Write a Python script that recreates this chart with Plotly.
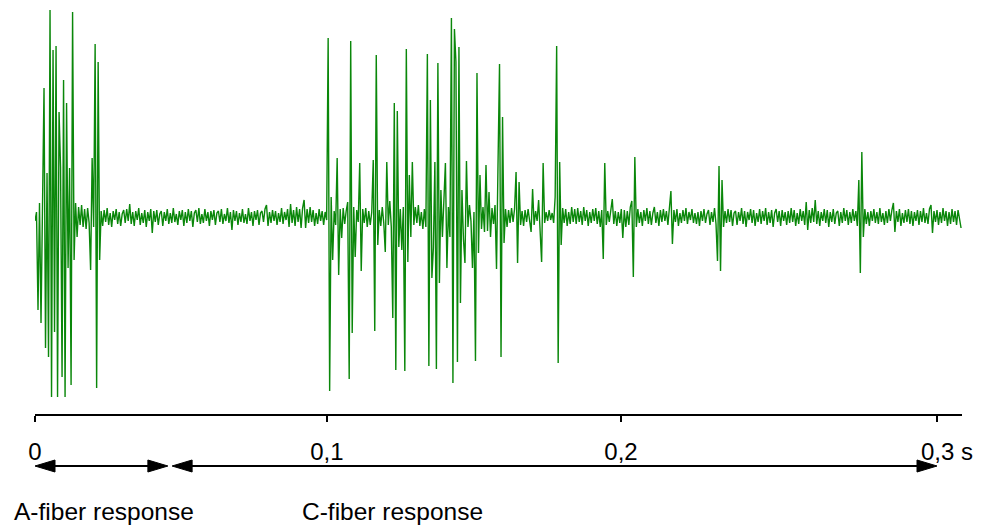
import numpy as np
import plotly.graph_objects as go

# ---- data ----
SAMPLE_INTERVAL_S = 0.0005          # one sample every 0.5 ms
# recorded nerve signal, amplitude in arbitrary units (baseline = 0)
signal_rows = [
    [-4, 5, -93, 14, -106, 42, 129, -131, 44, -140, 207, -180, 167, -115, 171, -180, 105, 50, -160, 137],
    [-180, 114, -51, 49, -168, 205, -43, 14, -20, 10, -8, 12, -10, 8, -12, 9, -6, -53, 59, -10],
    [173, -171, 155, -43, 6, -9, 7, -5, 9, -8, 4, -10, 6, -3, 8, -7, 5, -9, 3, 7],
    [-6, 8, -4, 13, -7, 5, -9, 6, -3, 9, -8, 4, -6, 7, -10, 5, -4, 8, -16, 6],
    [-5, 7, -8, 3, 6, -9, 5, -4, 8, -7, 4, -6, 9, -5, 3, -8, 6, -3, 7, -9],
    [5, -6, 8, -4, 6, -10, 4, 7, -5, 9, -7, 3, -6, 8, -4, 5, -9, 6, -3, 7],
    [-8, 4, 6, -5, 8, -7, 3, -4, 9, -6, 5, -13, 7, -4, 6, -8, 4, -5, 8, -6],
    [3, -7, 9, -4, 5, -9, 6, -3, 7, -8, 4, 6, -5, 8, 12, -9, 5, -6, 7, -4],
    [6, -8, 4, -5, 9, -7, 5, -3, 8, -10, 13, -6, 7, -9, 10, -5, 8, -11, 9, 17],
    [-11, 8, -6, 10, -5, 7, -9, 4, -7, 8, -4, 6, -8, 5, -3, 179, -174, 20, -43, 6],
    [-8, 59, -58, 8, -21, 9, -7, 6, 15, -162, 176, -116, 10, -40, 7, -5, 54, -54, 8, -6],
    [9, -10, 6, -8, 5, 57, -114, 162, -28, 7, -9, 10, -6, -35, 55, -8, 16, -10, -101, 114],
    [-153, 106, -30, 8, -33, 10, -154, 168, -45, 42, -20, 55, -8, 10, -6, 12, -9, 5, -12, 8],
    [-10, 163, -149, 117, -61, -31, 55, -152, 154, -66, 27, -20, 10, 54, -51, 10, -20, 199, -166, 188],
    [155, -145, 170, -86, 27, -22, -46, 56, -10, 12, -4, -51, 5, -144, 144, -36, 42, -12, 10, -15],
    [52, -14, 25, -20, 9, -7, 12, -52, 54, 153, -140, 100, -26, 8, -10, 7, -6, 9, -5, 8],
    [45, -46, 35, -8, 6, -9, 7, -5, 8, -7, -15, 28, -8, 6, -4, 17, -9, -45, 54, -6],
    [5, -4, 7, -3, 4, -6, 20, 171, -146, 55, -28, 9, -6, 8, -9, 5, -7, 10, -5, 8],
    [-7, 9, -5, 6, -8, 10, -4, 7, -9, 5, -6, 8, -4, 9, -7, 6, -10, 7, -42, 54],
    [-8, 6, -5, 9, 18, -7, 6, -9, 5, -6, 8, -21, 7, -10, 6, -8, 10, 16, -60, 60],
    [-10, 8, -6, 5, -9, 7, -4, 9, -7, 6, -8, 4, 10, -6, 5, -9, 7, -5, 8, -4],
    [6, -8, 9, 26, -27, 7, -5, 8, -9, 4, -6, 7, -4, 9, -7, 5, -3, 8, -6, 4],
    [-7, 5, -9, 6, -4, 8, -6, 3, 7, -8, 5, -5, 9, -7, -44, 51, -54, 37, -10, 6],
    [-6, 8, -5, 7, -9, 4, 6, -8, 5, -4, 9, -7, 6, -10, 5, -3, 8, -6, 7, -9],
    [4, -5, 8, -7, 6, -4, 9, -8, 5, -6, 7, -10, 4, 8, -5, 6, -9, 7, -4, 5],
    [-8, 6, -6, 9, -5, 7, -9, 4, -7, 8, -4, 6, -8, 15, -13, 7, -6, 9, -5, 17],
    [-7, 6, -9, 5, -4, 8, -6, 7, -10, 5, -5, 8, -7, 4, 6, -9, 5, -6, 9, -4],
    [7, -8, 5, -6, 8, -4, 6, -9, 37, -56, 65, -20, 8, -7, 5, -9, 6, -4, 8, -6],
    [5, -7, 9, -5, 4, -8, 6, -6, 8, -4, 7, 14, -15, 6, -5, 8, -9, 4, -6, 7],
    [-5, 8, -7, 6, -9, 5, -4, 7, -8, 6, -5, 9, -6, 4, -7, 8, 12, -16, 6, -5],
    [7, -8, 5, -6, 9, -4, 6, -9, 5, -7, 8, -5, 6, -8, 7, -4, -11],
]

tick_positions_s = [0, 0.0971, 0.1949, 0.3]
tick_labels = ["0", "0,1", "0,2", "0,3 s"]

a_fiber_window = (0.0, 0.0442)
c_fiber_window = (0.0456, 0.3)
window_labels = ["A-fiber response", "C-fiber response"]

# ---- build ----
signal = np.array([v for row in signal_rows for v in row], dtype=float)
time_s = np.arange(signal.size) * SAMPLE_INTERVAL_S

PAGE_MARGIN = 8                      # default <body> margin of the html page
W, H = 982 - PAGE_MARGIN, 525 - PAGE_MARGIN


def fx(px):   # screen x pixel -> figure pixel
    return px - PAGE_MARGIN


def fy(py):   # screen y pixel -> figure pixel
    return py - PAGE_MARGIN


PX_PER_S = (937 - 35) / 0.3
X_LEFT, X_RIGHT = fx(35), fx(962)
x_range = [0, (X_RIGHT - X_LEFT) / PX_PER_S]
AXIS_Y = fy(414)
BASE_Y = fy(217)
y_dom_bottom = (H - AXIS_Y) / H

# the unit "s" trails the last number, so keep the number itself centred on its tick
tick_text = tick_labels[:-1] + ["\u00a0\u00a0\u00a0" + tick_labels[-1]]

fig = go.Figure()
fig.add_trace(go.Scatter(
    x=time_s, y=signal, mode="lines",
    line=dict(color="#0a870a", width=1.4),
    hoverinfo="skip", showlegend=False,
))

FONT = "Liberation Sans, Arial, sans-serif"

fig.update_layout(
    width=W, height=H,
    margin=dict(l=0, r=0, t=0, b=0, autoexpand=False),
    paper_bgcolor="white", plot_bgcolor="white",
    showlegend=False,
    xaxis=dict(
        domain=[X_LEFT / W, X_RIGHT / W],
        range=x_range,
        automargin=False,
        showgrid=False, zeroline=False,
        showline=True, linecolor="black", linewidth=2,
        ticks="outside", ticklen=6, tickwidth=2, tickcolor="black",
        tickvals=tick_positions_s, ticktext=tick_text,
        tickfont=dict(family=FONT, size=24, color="black"),
        ticklabelstandoff=9,
    ),
    yaxis=dict(
        domain=[y_dom_bottom, 1],
        range=[-(AXIS_Y - BASE_Y), BASE_Y],
        visible=False, automargin=False,
    ),
)

# double-headed arrows marking the response windows
ARROW_Y = (H - fy(466)) / H
HEAD_LEN = 20 / PX_PER_S
HEAD_HALF = 6 / H


def head(tip, direction):
    base = tip + direction * HEAD_LEN
    return dict(
        type="path", xref="x", yref="paper",
        path=f"M{tip},{ARROW_Y} L{base},{ARROW_Y + HEAD_HALF} L{base},{ARROW_Y - HEAD_HALF} Z",
        fillcolor="black", line=dict(color="black", width=1),
    )


shapes = []
for (x0, x1) in (a_fiber_window, c_fiber_window):
    shapes.append(dict(type="line", xref="x", yref="paper",
                       x0=x0 + HEAD_LEN * 0.5, x1=x1 - HEAD_LEN * 0.5,
                       y0=ARROW_Y, y1=ARROW_Y,
                       line=dict(color="black", width=2)))
    shapes.append(head(x0, +1))
    shapes.append(head(x1, -1))
fig.update_layout(shapes=shapes)

# window labels
label_y = (H - fy(511)) / H
for text, left_px in zip(window_labels, (12, 300)):
    fig.add_annotation(x=fx(left_px) / W, y=label_y, xref="paper", yref="paper",
                       text=text, showarrow=False, xanchor="left", yanchor="middle",
                       font=dict(family=FONT, size=24.5, color="black"))

fig.write_html("out.html")
